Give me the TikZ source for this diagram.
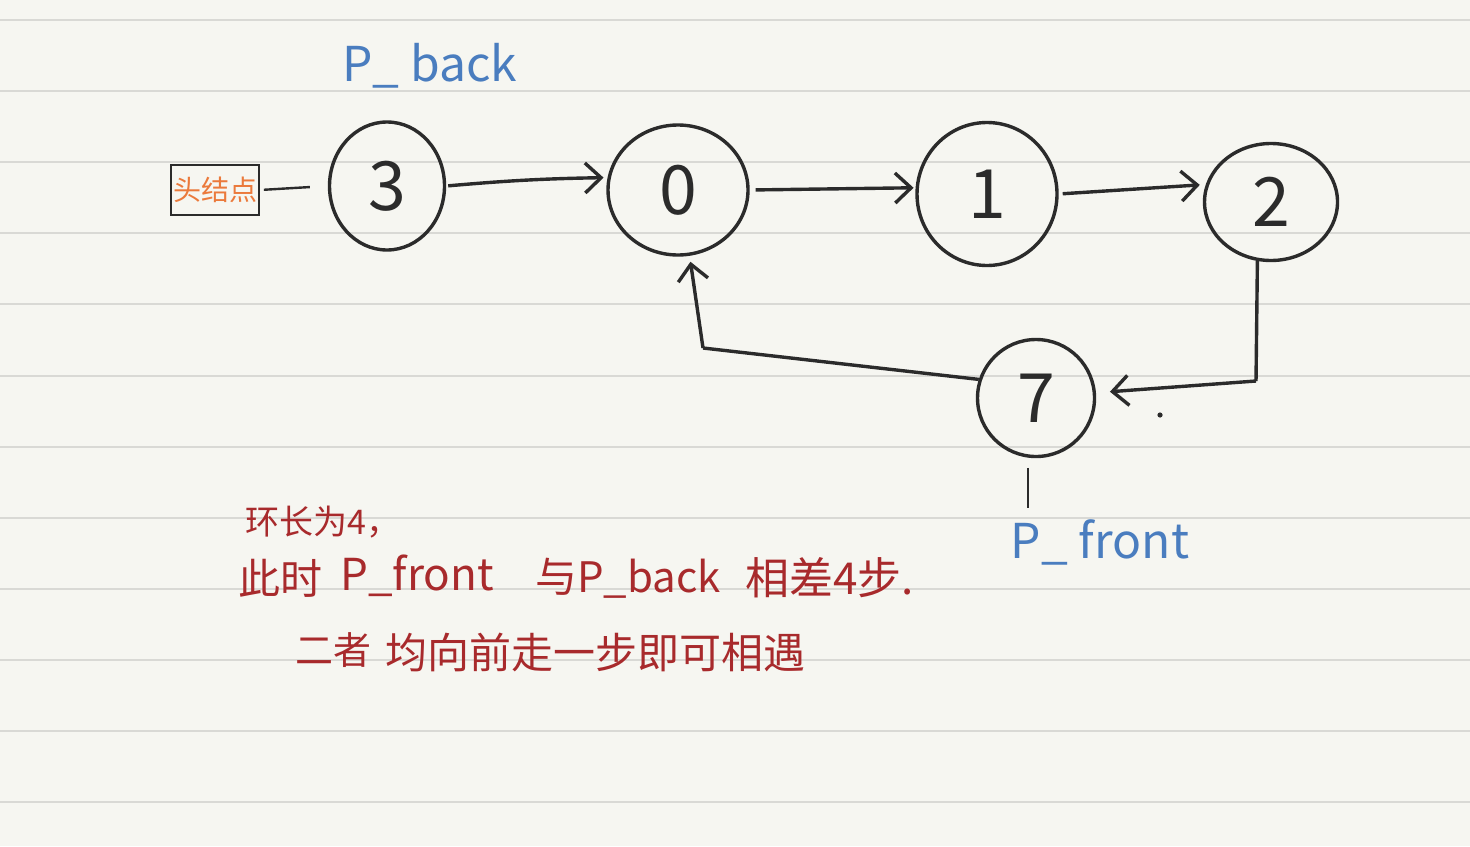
\documentclass[tikz,border=0pt]{standalone}
\usepackage{fontspec}
\setmainfont{Noto Sans CJK SC}
\usetikzlibrary{shapes.geometric,arrows.meta,calc}
\definecolor{paper}{HTML}{F6F6F1}
\definecolor{rulecol}{HTML}{D9D9D5}
\definecolor{ink}{HTML}{2B2B2B}
\definecolor{bluepen}{HTML}{4A7DBF}
\definecolor{redpen}{HTML}{A82A2C}
\definecolor{orangepen}{HTML}{EB7A3C}
\begin{document}
\begin{tikzpicture}[x=0.5pt,y=-0.5pt,
  ring/.style={ellipse, draw=ink, line width=1.7pt, inner sep=0pt, text=ink,
    font=\fontsize{34}{34}\selectfont},
  headbox/.style={draw=ink, line width=0.9pt, minimum width=44pt, minimum height=25pt,
    inner sep=1pt, text=orangepen, font=\fontsize{14}{14}\selectfont},
  arr/.style={draw=ink, line width=1.7pt, -{Straight Barb[length=8pt,width=15pt]}},
  plainline/.style={draw=ink, line width=1.7pt},
  bluetext/.style={text=bluepen, inner sep=0pt, font=\fontsize{24}{24}\selectfont},
  redtext/.style={text=redpen, inner sep=0pt, anchor=west}
]
\fill[paper] (0,0) rectangle (1470,846);
\useasboundingbox (0,0) rectangle (1470,846);
\foreach \k in {0,...,11} \draw[rulecol, line width=1pt] (0,{20+71.1*\k}) -- (1470,{20+71.1*\k});

% nodes
\node[ring, minimum width=57.5pt, minimum height=64pt] (n3) at (387,186) {3};
\node[ring, minimum width=70pt, minimum height=65pt] (n0) at (678,190) {0};
\node[ring, minimum width=70pt, minimum height=71.5pt] (n1) at (987,194) {1};
\node[ring, minimum width=66.5pt, minimum height=58.5pt] (n2) at (1271,202) {2};
\node[ring, minimum width=58.5pt, minimum height=58.5pt] (n7) at (1036,398) {7};

\node[headbox] (head) at (215,190) {头结点};

% labels
\node[bluetext] (pb) at (430,66) {P\_ back};
\node[bluetext] (pf) at (1100,542) {P\_ front};

% connectors
\draw[ink, line width=1.2pt, shorten >=9pt, shorten <=2pt] (head.east) -- (n3.west);
\draw[arr, shorten <=1pt, shorten >=2pt] (n3.east) to[bend left=2] (n0.170);
\draw[arr, shorten <=3pt, shorten >=1pt] (n0.east) -- (n1.175);
\draw[arr, shorten <=2pt, shorten >=3pt] (n1.east) -- (n2.165);

\coordinate (c27) at (1256,381);
\draw[plainline] (n2.-103) -- (c27);
\draw[arr, shorten >=7pt] (c27) -- (n7.5);

\coordinate (c70) at (703,348);
\draw[plainline] (n7.162) -- (c70);
\draw[arr, shorten >=3pt] (c70) -- (n0.-80);

\draw[ink, line width=1pt] ($(n7.265)+(-3,10)$) -- ($(n7.265)+(-3,50)$);
\fill[ink] (1160,415) circle (1.3pt);

% notes
\node[redtext, font=\fontsize{17}{17}\selectfont] (t1) at (245,522) {环长为4，};
\node[redtext, font=\fontsize{21}{21}\selectfont] (t2a) at (238,578) {此时};
\node[redtext, font=\fontsize{22}{22}\selectfont] (t2b) at (340,576) {P\_front};
\node[redtext, font=\fontsize{21}{21}\selectfont] (t2c) at (535,578) {与P\_back};
\node[redtext, font=\fontsize{22}{22}\selectfont] (t2d) at (745,578) {相差4步.};
\node[redtext, font=\fontsize{19}{19}\selectfont] (t3a) at (295,650) {二者};
\node[redtext, font=\fontsize{21}{21}\selectfont] (t3b) at (385,652) {均向前走一步即可相遇};
\end{tikzpicture}
\end{document}
